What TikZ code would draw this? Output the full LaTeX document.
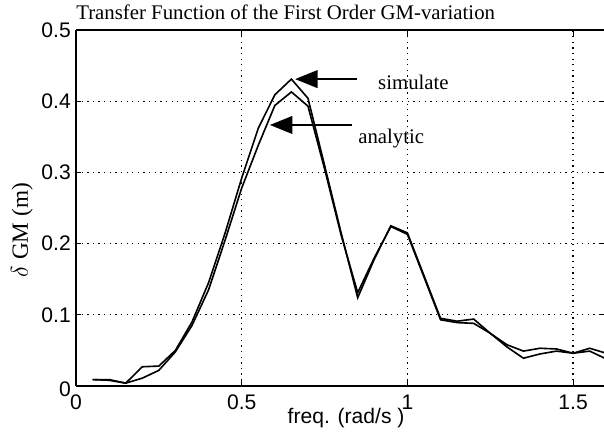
\documentclass[tikz,border=0pt]{standalone}
\usepackage{fontspec}
\setmainfont{Liberation Serif}
\setsansfont{Liberation Sans}
\usetikzlibrary{arrows.meta}

\begin{document}
\begin{tikzpicture}[
    x=8.285cm, y=17.8cm,
    gridline/.style={line width=0.9pt, dash pattern=on 0.9pt off 3.1pt},
    frame/.style={line width=1.4pt},
    curve/.style={line width=1.15pt, line join=miter},
    ticklabel/.style={font=\sffamily\fontsize{15}{17}\selectfont, inner sep=0pt},
    annot/.style={font=\rmfamily\fontsize{14.8}{17}\selectfont, inner sep=0pt},
    pointer/.style={-{Triangle[length=16pt, width=12.5pt]}, line width=1.5pt},
]
\useasboundingbox (-0.2293,-0.0716) rectangle (1.5932,0.5421);

% grid
\foreach \gx in {0.5,1,1.5}
    \draw[gridline] (\gx,0) -- (\gx,0.5);
\foreach \gy in {0.1,0.2,0.3,0.4}
    \draw[gridline] (0,\gy) -- (1.5932,\gy);

% the two transfer functions
\begin{scope}
\clip (0,0) rectangle (1.5932,0.5);
\draw[curve] plot coordinates {(0.05,0.009) (0.10,0.009) (0.15,0.004)
    (0.20,0.027) (0.25,0.028) (0.30,0.050) (0.35,0.090) (0.40,0.145)
    (0.45,0.215) (0.50,0.292) (0.55,0.362) (0.60,0.409) (0.65,0.431)
    (0.70,0.404) (0.75,0.310) (0.80,0.215) (0.85,0.124) (0.90,0.178)
    (0.95,0.225) (1.00,0.215) (1.05,0.155) (1.10,0.095) (1.15,0.091)
    (1.20,0.094) (1.25,0.074) (1.30,0.058) (1.35,0.049) (1.40,0.053)
    (1.45,0.052) (1.50,0.046) (1.55,0.053) (1.60,0.046)};
\draw[curve] plot coordinates {(0.05,0.009) (0.10,0.008) (0.15,0.004)
    (0.20,0.011) (0.25,0.022) (0.30,0.048) (0.35,0.085) (0.40,0.135)
    (0.45,0.205) (0.50,0.278) (0.55,0.338) (0.60,0.394) (0.65,0.413)
    (0.70,0.393) (0.75,0.305) (0.80,0.212) (0.85,0.131) (0.90,0.180)
    (0.95,0.224) (1.00,0.213) (1.05,0.153) (1.10,0.093) (1.15,0.089)
    (1.20,0.088) (1.25,0.074) (1.30,0.055) (1.35,0.039) (1.40,0.045)
    (1.45,0.049) (1.50,0.046) (1.55,0.049) (1.60,0.038)};
\end{scope}

% axes
\draw[frame] (0,0.5) -- (0,0);
\draw[frame, line width=1.8pt] (0,0) -- (1.5932,0);
\draw[line width=1.1pt] (0,0.5) -- (1.5932,0.5);
\foreach \gx in {0.5,1,1.5} {
    \draw[line width=0.8pt] (\gx,0) -- (\gx,0.008);
    \draw[line width=0.8pt] (\gx,0.5) -- (\gx,0.492);
}
\foreach \gy in {0.1,0.2,0.3,0.4} {
    \draw[line width=0.8pt] (0,\gy) -- (0.015,\gy);
    \draw[line width=0.8pt] (1.5932,\gy) -- (1.578,\gy);
}

% tick labels
\node[ticklabel, anchor=north] (x0) at (0,-0.0126) {0};
\node[ticklabel, anchor=north] (x05) at (0.5,-0.0126) {0.5};
\node[ticklabel, anchor=north] (x1) at (1,-0.0126) {1};
\node[ticklabel, anchor=north] (x15) at (1.5,-0.0126) {1.5};
\node[ticklabel, anchor=east] (y0) at (-0.015,-0.004) {0};
\node[ticklabel, anchor=east] (y01) at (-0.015,0.1) {0.1};
\node[ticklabel, anchor=east] (y02) at (-0.015,0.2) {0.2};
\node[ticklabel, anchor=east] (y03) at (-0.015,0.3) {0.3};
\node[ticklabel, anchor=east] (y04) at (-0.015,0.4) {0.4};
\node[ticklabel, anchor=east] (y05) at (-0.015,0.5) {0.5};

% axis titles
\node[ticklabel, anchor=base] (xlabel) at (0.815,-0.052) {freq. (rad/s )};
\node[annot, font=\rmfamily\fontsize{16.5}{18}\selectfont, rotate=90]
    (ylabel) at (-0.163,0.219) {$\delta$ GM (m)};
\node[annot, anchor=base west] (title) at (0,0.514)
    {Transfer Function of the First Order GM-variation};

% curve names
\node[annot, anchor=base west] (sim) at (0.911,0.417) {simulate};
\node[annot, anchor=base west] (ana) at (0.851,0.341) {analytic};
\coordinate (simtip) at (0.661,0.431);
\coordinate (anatip) at (0.585,0.3666);
\draw[pointer] ([xshift=-15pt]sim.west |- simtip) -- (simtip);
\draw[pointer] ([xshift=-4pt]ana.west |- anatip) -- (anatip);

\end{tikzpicture}
\end{document}
